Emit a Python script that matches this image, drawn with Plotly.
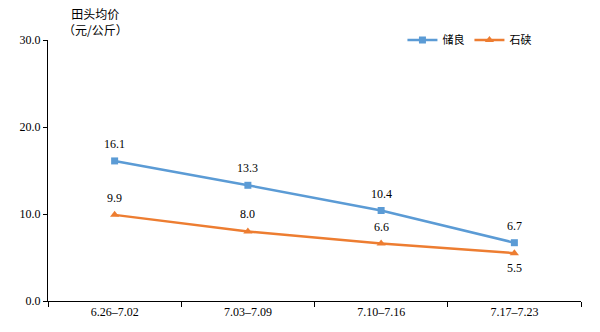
import plotly.graph_objects as go

categories = ["6.26–7.02", "7.03–7.09", "7.10–7.16", "7.17–7.23"]
chuliang = [16.1, 13.3, 10.4, 6.7]
shixia = [9.9, 8.0, 6.6, 5.5]
shixia_label_above = [True, True, True, False]
y_ticks = [0, 10, 20, 30]
y_tick_labels = ["0.0", "10.0", "20.0", "30.0"]

num_font = dict(family="Liberation Serif, Noto Sans CJK SC", size=12, color="#000")
tick_font = dict(family="Liberation Serif, Noto Sans CJK SC", size=12, color="#000")

fig = go.Figure()
fig.add_trace(go.Scatter(
    x=categories, y=chuliang, name="储良", mode="lines+markers",
    line=dict(color="#5B9BD5", width=2.5),
    marker=dict(symbol="square", size=7, color="#5B9BD5"),
    cliponaxis=False,
))
fig.add_trace(go.Scatter(
    x=categories, y=shixia, name="石硖", mode="lines+markers",
    line=dict(color="#ED7D31", width=2.5),
    marker=dict(symbol="triangle-up", size=8, color="#ED7D31"),
    cliponaxis=False,
))

annotations = []
for c, v in zip(categories, chuliang):
    annotations.append(dict(x=c, y=v, text=f"{v:.1f}", showarrow=False,
                            yshift=17, font=num_font))
for c, v, up in zip(categories, shixia, shixia_label_above):
    annotations.append(dict(x=c, y=v, text=f"{v:.1f}", showarrow=False,
                            yshift=17 if up else -15, font=num_font))
annotations.append(dict(text="田头均价<br>（元/公斤）", xref="paper", yref="paper", x=0.09, y=1.0,
                        xanchor="center", yanchor="bottom", showarrow=False,
                        font=dict(family="Noto Sans CJK SC", size=12, color="#000"),
                        align="center"))

fig.update_layout(
    width=600, height=332,
    margin=dict(l=48, r=19, t=40, b=31),
    paper_bgcolor="white", plot_bgcolor="white",
    font=dict(family="Noto Sans CJK SC", size=11, color="#000"),
    showlegend=True,
    legend=dict(orientation="h", x=0.665, y=1.0, xanchor="left", yanchor="middle",
                font=dict(family="Noto Sans CJK SC", size=11), itemwidth=30,
                bgcolor="rgba(0,0,0,0)"),
    xaxis=dict(
        type="category", showgrid=False, showline=True, linecolor="#000", linewidth=1,
        ticks="outside", tickson="boundaries", ticklen=5, tickcolor="#000",
        tickfont=tick_font, range=[-0.5, 3.5],
    ),
    yaxis=dict(
        range=[0, 30], tickvals=y_ticks, ticktext=y_tick_labels,
        showgrid=False, showline=True, linecolor="#000", linewidth=1,
        ticks="outside", ticklen=4, tickcolor="#000", tickfont=tick_font, zeroline=False,
    ),
    annotations=annotations,
)
fig.write_html("out.html")
